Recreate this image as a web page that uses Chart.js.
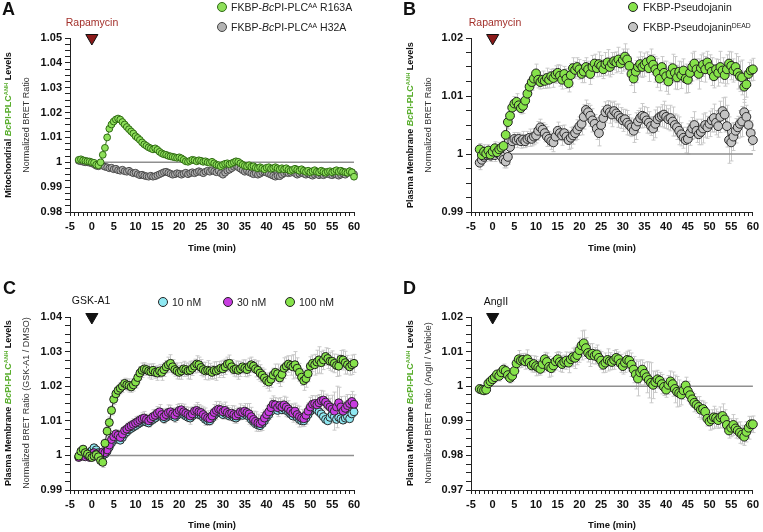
<!DOCTYPE html>
<html>
<head>
<meta charset="utf-8">
<script src="https://cdn.jsdelivr.net/npm/chart.js@4.4.1/dist/chart.umd.min.js"></script>
<style>
  html, body { margin: 0; padding: 0; background: #fff; }
  #fig { position: relative; width: 763px; height: 532px; overflow: hidden; font-family: 'Liberation Sans', Arial, sans-serif; color: #111; }
  #fig canvas { position: absolute; }
  .lbl { position: absolute; white-space: nowrap; line-height: 1; }
  .center { transform: translate(-50%, -50%); }
  .vert { transform: translate(-50%, -50%) rotate(-90deg); }
  .letter { font-size: 18px; font-weight: bold; }
  .ytb { font-size: 9px; font-weight: bold; }
  .ytn { font-size: 9px; color: #333; }
  .g { color: #5aae2e; }
  sup { font-size: 0.65em; position: relative; top: -0.5em; vertical-align: baseline; line-height: 0; }
  .leg { font-size: 10.5px; color: #222; transform: translateY(-50%); }
  .dot { position: absolute; width: 8px; height: 8px; border-radius: 50%; border: 1px solid #333; transform: translate(-50%, -50%); }
  .stim { font-size: 10.5px; }
</style>
</head>
<body>
<div id="fig">
  <canvas id="chartA" width="381" height="262" style="left:0;top:0"></canvas>
  <canvas id="chartB" width="382" height="262" style="left:381px;top:0"></canvas>
  <canvas id="chartC" width="381" height="270" style="left:0;top:262px"></canvas>
  <canvas id="chartD" width="382" height="270" style="left:381px;top:262px"></canvas>

  <!-- panel A -->
  <div class="lbl letter" style="left:2px;top:0">A</div>
  <div class="lbl center stim" style="left:92px;top:22px;color:#a3302b">Rapamycin</div>
  <span class="dot" style="left:222px;top:7px;background:#8ee05a;border-color:#2f6a14"></span>
  <div class="lbl leg" style="left:231px;top:7px">FKBP-<i>Bc</i>PI-PLC<sup>AA</sup> R163A</div>
  <span class="dot" style="left:222px;top:27px;background:#b3b3b3;border-color:#444"></span>
  <div class="lbl leg" style="left:231px;top:27px">FKBP-<i>Bc</i>PI-PLC<sup>AA</sup> H32A</div>
  <div class="lbl vert ytb" style="left:8px;top:125px">Mitochondrial <span class="g"><i>Bc</i>PI-PLC<sup>ANH</sup></span> Levels</div>
  <div class="lbl vert ytn" style="left:25.5px;top:125px">Normalized BRET Ratio</div>

  <!-- panel B -->
  <div class="lbl letter" style="left:403px;top:0">B</div>
  <div class="lbl center stim" style="left:495px;top:22px;color:#a3302b">Rapamycin</div>
  <span class="dot" style="left:633px;top:7px;background:#86e34a;border-color:#222"></span>
  <div class="lbl leg" style="left:643px;top:7px">FKBP-Pseudojanin</div>
  <span class="dot" style="left:633px;top:27px;background:#c4c4c4;border-color:#222"></span>
  <div class="lbl leg" style="left:643px;top:27px">FKBP-Pseudojanin<sup>DEAD</sup></div>
  <div class="lbl vert ytb" style="left:410px;top:125px">Plasma Membrane <span class="g"><i>Bc</i>PI-PLC<sup>ANH</sup></span> Levels</div>
  <div class="lbl vert ytn" style="left:428px;top:125px">Normalized BRET Ratio</div>

  <!-- panel C -->
  <div class="lbl letter" style="left:3px;top:278.5px">C</div>
  <div class="lbl center stim" style="left:91px;top:300px">GSK-A1</div>
  <span class="dot" style="left:163px;top:302px;background:#8fe8f2;border-color:#222"></span>
  <div class="lbl leg" style="left:172px;top:302px">10 nM</div>
  <span class="dot" style="left:228px;top:302px;background:#c83ce0;border-color:#222"></span>
  <div class="lbl leg" style="left:237px;top:302px">30 nM</div>
  <span class="dot" style="left:290px;top:302px;background:#86e34a;border-color:#222"></span>
  <div class="lbl leg" style="left:299px;top:302px">100 nM</div>
  <div class="lbl vert ytb" style="left:8px;top:403px">Plasma Membrane <span class="g"><i>Bc</i>PI-PLC<sup>ANH</sup></span> Levels</div>
  <div class="lbl vert ytn" style="left:25.5px;top:403px">Normalized BRET Ratio (GSK-A1 / DMSO)</div>

  <!-- panel D -->
  <div class="lbl letter" style="left:403px;top:278.5px">D</div>
  <div class="lbl center stim" style="left:496px;top:301px">AngII</div>
  <div class="lbl vert ytb" style="left:410px;top:403px">Plasma Membrane <span class="g"><i>Bc</i>PI-PLC<sup>ANH</sup></span> Levels</div>
  <div class="lbl vert ytn" style="left:428px;top:403px">Normalized BRET Ratio (AngII / Vehicle)</div>
</div>

<script>
// sampling times (min), shared by all panels
const minutes = [
  -3, -2.5, -2, -1.5, -1, -0.5,
  0, 0.5, 1, 1.5, 2, 2.5, 3, 3.5, 4, 4.5,
  5, 5.5, 6, 6.5, 7, 7.5, 8, 8.5, 9, 9.5,
  10, 10.5, 11, 11.5, 12, 12.5, 13, 13.5, 14, 14.5,
  15, 15.5, 16, 16.5, 17, 17.5, 18, 18.5, 19, 19.5,
  20, 20.5, 21, 21.5, 22, 22.5, 23, 23.5, 24, 24.5,
  25, 25.5, 26, 26.5, 27, 27.5, 28, 28.5, 29, 29.5,
  30, 30.5, 31, 31.5, 32, 32.5, 33, 33.5, 34, 34.5,
  35, 35.5, 36, 36.5, 37, 37.5, 38, 38.5, 39, 39.5,
  40, 40.5, 41, 41.5, 42, 42.5, 43, 43.5, 44, 44.5,
  45, 45.5, 46, 46.5, 47, 47.5, 48, 48.5, 49, 49.5,
  50, 50.5, 51, 51.5, 52, 52.5, 53, 53.5, 54, 54.5,
  55, 55.5, 56, 56.5, 57, 57.5, 58, 58.5, 59, 59.5,
  60
];

const minuteTicks = [-5, 0, 5, 10, 15, 20, 25, 30, 35, 40, 45, 50, 55, 60];
const ratioTicksA = [0.98, 0.99, 1, 1.01, 1.02, 1.03, 1.04, 1.05];
const ratioTicksB = [0.99, 1, 1.01, 1.02];
const ratioTicksC = [0.99, 1, 1.01, 1.02, 1.03, 1.04];
const ratioTicksD = [0.97, 0.98, 0.99, 1, 1.01, 1.02];
const stimulusMinute = 0;
const baselineRatio = 1;

// A: mitochondrial, rapamycin recruitment
const aR163A = [
  1.0010, 1.0012, 1.0008, 1.0006, 1.0004, 1.0003,
  1.0000, 0.9998, 0.9990, 0.9988, 1.0000, 1.0030, 1.0058, 1.0100, 1.0135, 1.0152,
  1.0164, 1.0172, 1.0176, 1.0172, 1.0162, 1.0152, 1.0142, 1.0133, 1.0124, 1.0116,
  1.0105, 1.0098, 1.0090, 1.0080, 1.0072, 1.0066, 1.0060, 1.0056, 1.0052, 1.0056,
  1.0050, 1.0042, 1.0036, 1.0032, 1.0030, 1.0026, 1.0024, 1.0022, 1.0020, 1.0018,
  1.0020, 1.0016, 1.0010, 1.0004, 1.0002, 1.0006, 1.0010, 1.0008, 1.0004, 1.0008,
  1.0006, 1.0002, 1.0004, 1.0000, 0.9998, 1.0002, 0.9996, 0.9990, 0.9988, 0.9984,
  0.9990, 0.9994, 0.9996, 0.9992, 0.9996, 1.0000, 1.0004, 1.0002, 0.9996, 0.9990,
  0.9986, 0.9984, 0.9988, 0.9982, 0.9984, 0.9978, 0.9976, 0.9980, 0.9976, 0.9972,
  0.9978, 0.9980, 0.9974, 0.9976, 0.9980, 0.9976, 0.9972, 0.9976, 0.9972, 0.9976,
  0.9970, 0.9966, 0.9970, 0.9974, 0.9970, 0.9966, 0.9972, 0.9966, 0.9962, 0.9966,
  0.9960, 0.9964, 0.9968, 0.9962, 0.9960, 0.9966, 0.9962, 0.9958, 0.9962, 0.9964,
  0.9960, 0.9964, 0.9968, 0.9962, 0.9966, 0.9962, 0.9960, 0.9958, 0.9964, 0.9960,
  0.9942
];
const aH32A = [
  1.0006, 1.0004, 1.0002, 1.0000, 1.0000, 0.9998,
  0.9996, 0.9992, 0.9986, 0.9984, 0.9990, 0.9986, 0.9982, 0.9980, 0.9976, 0.9978,
  0.9972, 0.9974, 0.9968, 0.9966, 0.9970, 0.9964, 0.9962, 0.9966, 0.9960, 0.9956,
  0.9958, 0.9952, 0.9948, 0.9950, 0.9946, 0.9944, 0.9942, 0.9946, 0.9942, 0.9944,
  0.9948, 0.9952, 0.9956, 0.9960, 0.9962, 0.9958, 0.9954, 0.9950, 0.9952, 0.9956,
  0.9954, 0.9950, 0.9954, 0.9958, 0.9952, 0.9956, 0.9960, 0.9956, 0.9960, 0.9964,
  0.9960, 0.9956, 0.9962, 0.9966, 0.9962, 0.9968, 0.9964, 0.9960, 0.9966, 0.9956,
  0.9950, 0.9958, 0.9966, 0.9970, 0.9976, 0.9982, 0.9986, 0.9980, 0.9974, 0.9968,
  0.9962, 0.9966, 0.9960, 0.9956, 0.9952, 0.9956, 0.9950, 0.9954, 0.9960, 0.9962,
  0.9958, 0.9954, 0.9950, 0.9946, 0.9942, 0.9946, 0.9944, 0.9950, 0.9956, 0.9960,
  0.9956, 0.9958, 0.9962, 0.9956, 0.9950, 0.9954, 0.9958, 0.9954, 0.9950, 0.9954,
  0.9950, 0.9946, 0.9950, 0.9954, 0.9948, 0.9952, 0.9948, 0.9952, 0.9956, 0.9950,
  0.9948, 0.9952, 0.9950, 0.9946, 0.9950, 0.9954, 0.9950, 0.9956, 0.9964, 0.9960,
  0.9952
];

// B: plasma membrane, pseudojanin
const bPJ = [
  1.0008, 0.9998, 1.0004, 1.0001, 1.0006, 0.9999,
  1.0004, 1.0010, 1.0003, 1.0008, 1.0011, 1.0014, 1.0033, 1.0055, 1.0066, 1.0080,
  1.0087, 1.0090, 1.0084, 1.0079, 1.0083, 1.0092, 1.0104, 1.0116, 1.0124, 1.0130,
  1.0139, 1.0128, 1.0124, 1.0128, 1.0126, 1.0131, 1.0128, 1.0134, 1.0131, 1.0137,
  1.0140, 1.0135, 1.0128, 1.0138, 1.0130, 1.0122, 1.0136, 1.0148, 1.0145, 1.0150,
  1.0146, 1.0138, 1.0142, 1.0150, 1.0146, 1.0138, 1.0150, 1.0156, 1.0148, 1.0155,
  1.0152, 1.0146, 1.0155, 1.0158, 1.0150, 1.0156, 1.0160, 1.0158, 1.0163, 1.0156,
  1.0162, 1.0168, 1.0163, 1.0152, 1.0138, 1.0130, 1.0142, 1.0150, 1.0155, 1.0150,
  1.0154, 1.0158, 1.0148, 1.0162, 1.0154, 1.0146, 1.0140, 1.0130, 1.0150, 1.0140,
  1.0134, 1.0125, 1.0138, 1.0148, 1.0140, 1.0132, 1.0142, 1.0136, 1.0144, 1.0130,
  1.0128, 1.0140, 1.0150, 1.0156, 1.0146, 1.0138, 1.0148, 1.0154, 1.0146, 1.0158,
  1.0150, 1.0142, 1.0134, 1.0146, 1.0140, 1.0150, 1.0144, 1.0136, 1.0146, 1.0156,
  1.0152, 1.0144, 1.0150, 1.0140, 1.0134, 1.0132, 1.0116, 1.0120, 1.0138, 1.0144,
  1.0146
];
const bPJErr = [
  10, 8, 12, 9, 10, 8,
  9, 11, 10, 12, 9, 10, 14, 12, 10, 11,
  12, 14, 11, 10, 13, 15, 12, 11, 14, 12,
  16, 14, 12, 15, 13, 17, 14, 12, 16, 15,
  14, 18, 16, 13, 17, 15, 20, 18, 14, 16,
  17, 15, 19, 16, 14, 18, 20, 16, 15, 21,
  18, 16, 20, 22, 17, 19, 15, 18, 21, 17,
  19, 22, 18, 16, 20, 24, 19, 17, 21, 18,
  20, 18, 23, 19, 17, 22, 25, 21, 18, 20,
  26, 22, 19, 24, 28, 21, 18, 23, 20, 25,
  22, 19, 24, 21, 18, 26, 23, 20, 22, 19,
  21, 24, 20, 18, 23, 27, 22, 19, 25, 21,
  24, 20, 23, 28, 26, 30, 27, 22, 20, 18,
  19
];
const bPJDead = [
  0.9985, 0.9990, 0.9995, 0.9998, 1.0000, 0.9997,
  1.0000, 0.9998, 1.0002, 1.0000, 0.9996, 0.9990, 0.9987, 0.9995, 1.0012, 1.0022,
  1.0026, 1.0024, 1.0026, 1.0022, 1.0025, 1.0022, 1.0026, 1.0028, 1.0026, 1.0030,
  1.0032, 1.0040, 1.0046, 1.0042, 1.0036, 1.0030, 1.0026, 1.0022, 1.0020, 1.0030,
  1.0040, 1.0036, 1.0032, 1.0036, 1.0030, 1.0024, 1.0028, 1.0032, 1.0036, 1.0042,
  1.0048, 1.0052, 1.0064, 1.0076, 1.0072, 1.0066, 1.0058, 1.0052, 1.0044, 1.0036,
  1.0050, 1.0062, 1.0072, 1.0077, 1.0072, 1.0068, 1.0074, 1.0070, 1.0066, 1.0062,
  1.0058, 1.0060, 1.0054, 1.0050, 1.0046, 1.0040, 1.0048, 1.0056, 1.0062, 1.0066,
  1.0064, 1.0058, 1.0054, 1.0048, 1.0044, 1.0052, 1.0060, 1.0064, 1.0066, 1.0068,
  1.0064, 1.0060, 1.0062, 1.0056, 1.0050, 1.0046, 1.0040, 1.0034, 1.0028, 1.0024,
  1.0026, 1.0036, 1.0044, 1.0050, 1.0040, 1.0034, 1.0038, 1.0044, 1.0050, 1.0046,
  1.0052, 1.0058, 1.0062, 1.0054, 1.0048, 1.0064, 1.0074, 1.0068, 1.0048, 1.0024,
  1.0020, 1.0030, 1.0040, 1.0046, 1.0052, 1.0056, 1.0072, 1.0064, 1.0050, 1.0036,
  1.0024
];
const bPJDeadErr = [
  12, 10, 9, 11, 8, 10,
  9, 11, 10, 8, 12, 14, 11, 13, 12, 10,
  11, 13, 10, 12, 14, 11, 13, 15, 12, 14,
  13, 16, 14, 12, 15, 17, 13, 14, 16, 12,
  15, 13, 17, 14, 12, 16, 18, 15, 13, 17,
  16, 19, 21, 17, 15, 18, 20, 16, 19, 22,
  17, 20, 18, 15, 19, 21, 17, 16, 20, 18,
  19, 17, 21, 18, 16, 20, 23, 19, 17, 21,
  18, 22, 19, 16, 20, 24, 21, 17, 19, 23,
  20, 18, 22, 25, 19, 21, 24, 20, 18, 22,
  26, 21, 19, 23, 20, 18, 22, 25, 21, 19,
  22, 20, 24, 21, 19, 27, 23, 30, 36, 40,
  32, 24, 21, 19, 23, 26, 22, 20, 25, 21,
  18
];

// C: GSK-A1 doses
const c10nM = [
  0.9996, 1.0000, 0.9998, 1.0004, 1.0002, 1.0008,
  1.0014, 1.0022, 1.0016, 1.0008, 1.0004, 1.0000, 1.0004, 1.0012, 1.0024, 1.0036,
  1.0044, 1.0050, 1.0048, 1.0044, 1.0052, 1.0062, 1.0068, 1.0074, 1.0078, 1.0082,
  1.0086, 1.0090, 1.0094, 1.0098, 1.0100, 1.0096, 1.0094, 1.0100, 1.0104, 1.0108,
  1.0114, 1.0118, 1.0112, 1.0106, 1.0110, 1.0116, 1.0118, 1.0114, 1.0110, 1.0116,
  1.0122, 1.0124, 1.0118, 1.0114, 1.0110, 1.0108, 1.0114, 1.0120, 1.0122, 1.0118,
  1.0116, 1.0110, 1.0104, 1.0100, 1.0100, 1.0108, 1.0116, 1.0122, 1.0126, 1.0124,
  1.0118, 1.0122, 1.0118, 1.0114, 1.0116, 1.0110, 1.0108, 1.0114, 1.0118, 1.0116,
  1.0120, 1.0116, 1.0112, 1.0104, 1.0098, 1.0092, 1.0088, 1.0086, 1.0092, 1.0100,
  1.0110, 1.0118, 1.0128, 1.0138, 1.0136, 1.0130, 1.0136, 1.0132, 1.0136, 1.0130,
  1.0126, 1.0120, 1.0114, 1.0118, 1.0110, 1.0104, 1.0100, 1.0100, 1.0108, 1.0118,
  1.0128, 1.0134, 1.0136, 1.0132, 1.0126, 1.0120, 1.0112, 1.0104, 1.0100, 1.0110,
  1.0118, 1.0112, 1.0104, 1.0110, 1.0106, 1.0102, 1.0108, 1.0112, 1.0106, 1.0120,
  1.0126
];
const c30nM = [
  0.9994, 0.9998, 1.0002, 0.9996, 1.0000, 0.9994,
  1.0002, 1.0008, 1.0004, 1.0000, 1.0006, 1.0010, 1.0008, 1.0016, 1.0030, 1.0046,
  1.0054, 1.0062, 1.0058, 1.0052, 1.0062, 1.0072, 1.0076, 1.0082, 1.0086, 1.0090,
  1.0094, 1.0098, 1.0102, 1.0106, 1.0108, 1.0104, 1.0100, 1.0106, 1.0112, 1.0116,
  1.0122, 1.0126, 1.0118, 1.0112, 1.0118, 1.0124, 1.0126, 1.0120, 1.0116, 1.0124,
  1.0130, 1.0132, 1.0126, 1.0122, 1.0118, 1.0114, 1.0120, 1.0128, 1.0130, 1.0126,
  1.0124, 1.0118, 1.0112, 1.0108, 1.0106, 1.0114, 1.0124, 1.0130, 1.0134, 1.0132,
  1.0126, 1.0130, 1.0124, 1.0120, 1.0122, 1.0118, 1.0114, 1.0120, 1.0126, 1.0124,
  1.0128, 1.0124, 1.0120, 1.0112, 1.0104, 1.0098, 1.0094, 1.0092, 1.0098, 1.0108,
  1.0118, 1.0126, 1.0138, 1.0148, 1.0146, 1.0138, 1.0144, 1.0140, 1.0146, 1.0140,
  1.0134, 1.0128, 1.0122, 1.0128, 1.0118, 1.0112, 1.0108, 1.0106, 1.0116, 1.0128,
  1.0140, 1.0148, 1.0150, 1.0146, 1.0152, 1.0158, 1.0160, 1.0154, 1.0146, 1.0140,
  1.0134, 1.0128, 1.0140, 1.0152, 1.0140, 1.0128, 1.0136, 1.0144, 1.0150, 1.0156,
  1.0148
];
const c30nMErr = [
  7, 8, 6, 9, 7, 8,
  9, 8, 10, 11, 9, 12, 10, 11, 13, 12,
  14, 12, 15, 13, 16, 14, 17, 15, 13, 16,
  18, 16, 14, 17, 19, 15, 18, 16, 20, 17,
  19, 21, 17, 20, 18, 22, 19, 17, 21, 23,
  20, 18, 22, 19, 21, 24, 20, 18, 23, 21,
  19, 22, 25, 21, 18, 20, 23, 26, 22, 19,
  21, 24, 20, 18, 22, 25, 21, 19, 23, 20,
  22, 26, 30, 27, 24, 28, 25, 22, 26, 23,
  25, 22, 27, 24, 21, 26, 23, 20, 25, 28,
  24, 21, 26, 23, 27, 30, 25, 22, 26, 24,
  28, 25, 22, 27, 24, 30, 26, 23, 27, 25,
  40, 55, 60, 45, 30, 28, 35, 32, 26, 29,
  27
];
const c100nM = [
  0.9998, 1.0012, 1.0018, 1.0008, 1.0004, 0.9998,
  0.9994, 0.9998, 1.0002, 0.9996, 0.9985, 0.9980, 1.0035, 1.0070, 1.0095, 1.0130,
  1.0162, 1.0178, 1.0188, 1.0194, 1.0200, 1.0208, 1.0204, 1.0202, 1.0198, 1.0204,
  1.0212, 1.0225, 1.0238, 1.0246, 1.0250, 1.0248, 1.0244, 1.0242, 1.0246, 1.0240,
  1.0238, 1.0244, 1.0240, 1.0248, 1.0256, 1.0262, 1.0266, 1.0256, 1.0248, 1.0244,
  1.0240, 1.0244, 1.0250, 1.0248, 1.0244, 1.0246, 1.0252, 1.0258, 1.0264, 1.0262,
  1.0254, 1.0248, 1.0244, 1.0246, 1.0244, 1.0240, 1.0246, 1.0244, 1.0248, 1.0252,
  1.0250, 1.0256, 1.0264, 1.0266, 1.0256, 1.0248, 1.0250, 1.0246, 1.0250, 1.0256,
  1.0252, 1.0248, 1.0256, 1.0262, 1.0258, 1.0250, 1.0246, 1.0238, 1.0232, 1.0224,
  1.0216, 1.0212, 1.0220, 1.0232, 1.0240, 1.0236, 1.0224, 1.0234, 1.0252, 1.0258,
  1.0264, 1.0260, 1.0256, 1.0262, 1.0252, 1.0240, 1.0226, 1.0216, 1.0222, 1.0236,
  1.0258, 1.0266, 1.0262, 1.0270, 1.0276, 1.0268, 1.0276, 1.0286, 1.0280, 1.0272,
  1.0272, 1.0266, 1.0260, 1.0258, 1.0278, 1.0276, 1.0268, 1.0262, 1.0256, 1.0262,
  1.0266
];
const c100nMErr = [
  8, 10, 9, 7, 11, 9,
  10, 12, 9, 11, 13, 15, 12, 14, 16, 13,
  15, 17, 14, 16, 18, 15, 17, 19, 16, 18,
  17, 15, 19, 21, 18, 16, 20, 22, 19, 17,
  21, 19, 23, 20, 18, 22, 25, 21, 19, 23,
  20, 24, 22, 19, 23, 26, 21, 20, 24, 22,
  23, 21, 25, 28, 22, 20, 24, 27, 23, 21,
  25, 22, 20, 24, 21, 19, 23, 26, 22, 20,
  24, 21, 25, 22, 19, 23, 27, 24, 21, 25,
  22, 26, 23, 20, 24, 28, 25, 22, 30, 27,
  24, 28, 35, 38, 30, 26, 24, 28, 25, 23,
  27, 24, 30, 34, 38, 32, 28, 25, 29, 26,
  30, 27, 32, 28, 25, 29, 33, 27, 24, 28,
  26
];

// D: AngII
const dAngII = [
  0.9992, 0.9990, 0.9988, 0.9990, 1.0008, 1.0014,
  1.0020, 1.0026, 1.0034, 1.0030, 1.0040, 1.0048, 1.0044, 1.0032, 1.0024, 1.0030,
  1.0044, 1.0066, 1.0078, 1.0074, 1.0076, 1.0072, 1.0078, 1.0068, 1.0060, 1.0064,
  1.0058, 1.0054, 1.0050, 1.0064, 1.0078, 1.0070, 1.0056, 1.0052, 1.0060, 1.0072,
  1.0078, 1.0070, 1.0064, 1.0070, 1.0074, 1.0068, 1.0078, 1.0084, 1.0082, 1.0090,
  1.0104, 1.0118, 1.0124, 1.0110, 1.0096, 1.0090, 1.0094, 1.0088, 1.0092, 1.0082,
  1.0074, 1.0062, 1.0068, 1.0076, 1.0072, 1.0070, 1.0076, 1.0082, 1.0078, 1.0066,
  1.0058, 1.0068, 1.0076, 1.0074, 1.0062, 1.0048, 1.0034, 1.0022, 1.0040, 1.0048,
  1.0036, 1.0026, 1.0018, 1.0010, 1.0004, 1.0012, 1.0020, 1.0016, 1.0006, 0.9998,
  0.9990, 1.0004, 1.0014, 1.0006, 0.9992, 0.9984, 0.9980, 0.9976, 0.9988, 1.0002,
  0.9986, 0.9974, 0.9962, 0.9952, 0.9946, 0.9940, 0.9932, 0.9934, 0.9926, 0.9906,
  0.9898, 0.9904, 0.9910, 0.9908, 0.9902, 0.9910, 0.9914, 0.9904, 0.9888, 0.9872,
  0.9880, 0.9888, 0.9878, 0.9872, 0.9866, 0.9860, 0.9854, 0.9868, 0.9880, 0.9890,
  0.9890
];
const dAngIIErr = [
  10, 12, 9, 11, 13, 10,
  12, 14, 11, 15, 13, 16, 14, 12, 15, 17,
  19, 22, 25, 20, 18, 23, 27, 21, 19, 24,
  28, 22, 18, 24, 20, 26, 30, 23, 19, 25,
  22, 27, 24, 20, 25, 29, 22, 26, 31, 28,
  35, 42, 38, 30, 26, 33, 29, 24, 27, 22,
  26, 23, 28, 32, 25, 22, 27, 24, 21, 26,
  23, 28, 25, 30, 34, 38, 42, 50, 36, 28,
  32, 45, 52, 58, 40, 30, 26, 24, 28, 25,
  22, 27, 30, 35, 40, 44, 38, 30, 26, 24,
  28, 25, 22, 26, 24, 30, 27, 23, 26, 21,
  25, 28, 32, 26, 24, 30, 35, 28, 25, 22,
  26, 30, 28, 24, 31, 27, 25, 29, 33, 22,
  24
];

const FONT = "'Liberation Sans', Arial, sans-serif";

// SEM whiskers (stored in 1e-4 ratio units), drawn under the markers
const errorBarPlugin = {
  id: 'errorBars',
  beforeDatasetsDraw(chart) {
    const { ctx, scales: { x, y } } = chart;
    ctx.save();
    ctx.strokeStyle = '#cacaca';
    ctx.lineWidth = 1;
    chart.data.datasets.forEach(ds => {
      if (!ds.errorBars) return;
      ds.data.forEach((p, j) => {
        const e = ds.errorBars[j] / 10000;
        const px = Math.round(x.getPixelForValue(p.x)) + 0.5;
        const top = y.getPixelForValue(p.y + e);
        const bot = y.getPixelForValue(p.y - e);
        ctx.beginPath();
        ctx.moveTo(px, top); ctx.lineTo(px, bot);
        ctx.moveTo(px - 2, top); ctx.lineTo(px + 2, top);
        ctx.moveTo(px - 2, bot); ctx.lineTo(px + 2, bot);
        ctx.stroke();
      });
    });
    ctx.restore();
  }
};

function points(values) {
  return minutes.map((t, i) => ({ x: t, y: values[i] }));
}

function series(values, fill, edge, line, radius, errs) {
  return {
    data: points(values),
    showLine: true,
    borderColor: line,
    borderWidth: 1,
    pointBackgroundColor: fill,
    pointBorderColor: edge,
    pointBorderWidth: 1,
    pointRadius: radius,
    pointHoverRadius: radius,
    errorBars: errs || null,
    clip: false
  };
}

function stimulus(yTop, color) {
  return {
    data: [{ x: stimulusMinute, y: yTop }],
    showLine: false,
    pointStyle: 'triangle',
    rotation: 180,
    pointRadius: 7,
    pointBackgroundColor: color,
    pointBorderColor: '#111',
    pointBorderWidth: 1,
    clip: false
  };
}

function baseline() {
  return {
    data: [
      { x: minutes[0], y: baselineRatio },
      { x: minutes[minutes.length - 1], y: baselineRatio }
    ],
    showLine: true,
    borderColor: '#8f8f8f',
    borderWidth: 1.5,
    pointRadius: 0,
    clip: false
  };
}

function panel(id, box, yTicks, datasets) {
  const label = ticks => v => {
    const hit = ticks.find(t => Math.abs(t - v) < 1e-9);
    return hit === undefined ? '' : String(hit);
  };
  return new Chart(document.getElementById(id), {
    type: 'scatter',
    data: { datasets },
    plugins: [errorBarPlugin],
    options: {
      responsive: false,
      animation: false,
      events: [],
      layout: { padding: { left: 0, top: box.top, right: box.right, bottom: 0 } },
      plugins: { legend: { display: false }, tooltip: { enabled: false } },
      scales: {
        x: {
          type: 'linear',
          min: minuteTicks[0],
          max: minuteTicks[minuteTicks.length - 1],
          border: { color: '#222', width: 1 },
          grid: { drawOnChartArea: false, tickLength: 4, color: '#222', tickColor: '#222' },
          ticks: {
            stepSize: 1, autoSkip: false, maxRotation: 0, minRotation: 0, padding: 4,
            color: '#111', font: { family: FONT, size: 11, weight: 'bold' },
            callback: label(minuteTicks)
          },
          title: {
            display: true, text: 'Time (min)', color: '#111',
            font: { family: FONT, size: 9.5, weight: 'bold' },
            padding: { top: 0, bottom: box.titlePad }
          },
          afterFit: s => { s.height = box.xH; }
        },
        y: {
          type: 'linear',
          min: yTicks[0],
          max: yTicks[yTicks.length - 1],
          border: { color: '#222', width: 1 },
          grid: { drawOnChartArea: false, tickLength: 5, color: '#222', tickColor: '#222' },
          ticks: {
            stepSize: 0.0025, autoSkip: false, padding: 3,
            color: '#111', font: { family: FONT, size: 11, weight: 'bold' },
            callback: label(yTicks)
          },
          afterFit: s => { s.width = box.yW; }
        }
      }
    }
  });
}

const LIME = '#86e34a';

panel('chartA', { top: 38, right: 27, yW: 70, xH: 50, titlePad: 8.3 }, ratioTicksA, [
  stimulus(ratioTicksA[ratioTicksA.length - 1], '#8b1a1a'),
  series(aR163A, '#8ee05a', '#2f6a14', '#2f6a14', 3.4),
  series(aH32A, '#adadad', '#4a4a4a', '#4a4a4a', 3.4),
  baseline()
]);

panel('chartB', { top: 38, right: 6, yW: 90, xH: 50, titlePad: 8.3 }, ratioTicksB, [
  stimulus(ratioTicksB[ratioTicksB.length - 1], '#8b1a1a'),
  series(bPJ, LIME, '#1e1e1e', '#1e1e1e', 4.4, bPJErr),
  series(bPJDead, '#c4c4c4', '#2a2a2a', '#2a2a2a', 4.4, bPJDeadErr),
  baseline()
]);

panel('chartC', { top: 55, right: 27, yW: 70, xH: 42, titlePad: 0.5 }, ratioTicksC, [
  stimulus(ratioTicksC[ratioTicksC.length - 1], '#111'),
  series(c100nM, LIME, '#1e1e1e', '#1e1e1e', 4, c100nMErr),
  series(c30nM, '#c83ce0', '#2a2a2a', '#2a2a2a', 4, c30nMErr),
  series(c10nM, '#8fe8f2', '#2a2a2a', '#2a2a2a', 4),
  baseline()
]);

panel('chartD', { top: 55, right: 6, yW: 90, xH: 42, titlePad: 0.5 }, ratioTicksD, [
  stimulus(ratioTicksD[ratioTicksD.length - 1], '#111'),
  series(dAngII, LIME, '#1e1e1e', '#1e1e1e', 4.4, dAngIIErr),
  baseline()
]);

// sanity check on hand-entered series lengths
const lengths = { aR163A, aH32A, bPJ, bPJErr, bPJDead, bPJDeadErr, c10nM, c30nM, c30nMErr, c100nM, c100nMErr, dAngII, dAngIIErr };
Object.entries(lengths).forEach(([name, arr]) => {
  if (arr.length !== minutes.length) console.error(name + ' has ' + arr.length + ' values, expected ' + minutes.length);
});
</script>
</body>
</html>
